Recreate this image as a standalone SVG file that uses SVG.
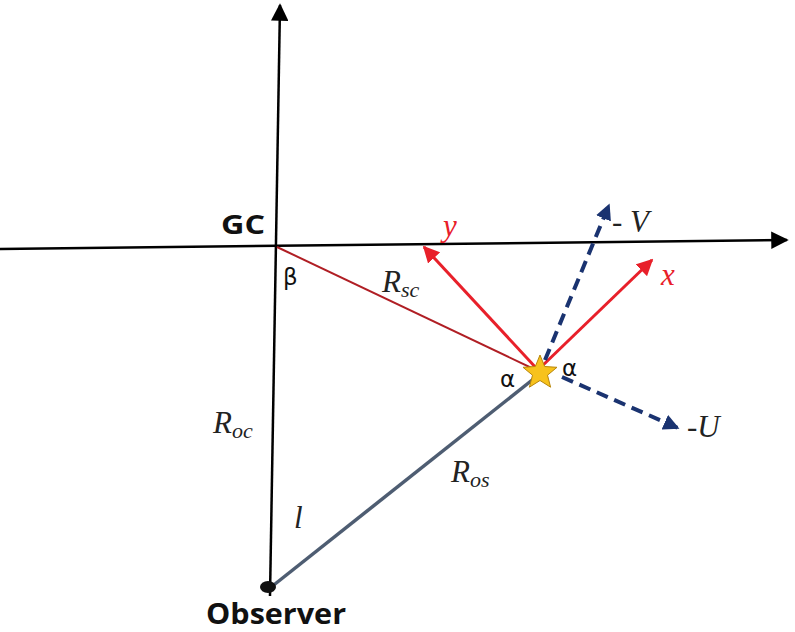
<svg xmlns="http://www.w3.org/2000/svg" width="795" height="632" viewBox="0 0 795 632">
<style>
.ax{stroke:#000;stroke-width:2.5;fill:none}
.red{stroke:#e8202a;stroke-width:3;fill:none}
.blu{stroke:#1a3370;stroke-width:4;fill:none;stroke-dasharray:12,7}
.lbl{font-family:"Liberation Serif",serif;font-style:italic;font-size:31px;fill:#222}
.sub{font-size:22px}
.bold{font-family:"Open Sans","Liberation Sans",sans-serif;font-weight:bold;fill:#111}
.gr{font-family:"DejaVu Sans","Liberation Sans",sans-serif;font-size:23px;fill:#111}
.rl{font-family:"Liberation Serif",serif;font-style:italic;font-size:31px;fill:#e8202a}
</style>
<defs>
<marker id="ak" viewBox="0 0 10 10" refX="9" refY="5" markerWidth="7" markerHeight="7" orient="auto" markerUnits="strokeWidth"><path d="M0,0 L10,5 L0,10 z" fill="#000"/></marker>
<marker id="ar" viewBox="0 0 10 10" refX="9" refY="5" markerWidth="5.5" markerHeight="5.5" orient="auto" markerUnits="strokeWidth"><path d="M0,0 L10,5 L0,10 z" fill="#e8202a"/></marker>
<marker id="ab" viewBox="0 0 10 10" refX="9" refY="5" markerWidth="4" markerHeight="4" orient="auto" markerUnits="strokeWidth"><path d="M0,0 L10,5 L0,10 z" fill="#1a3370"/></marker>
</defs>
<g id="connectors">
<path class="ax" d="M270,596 L280,5" marker-end="url(#ak)"/>
<path class="ax" d="M0,249 L787,240" marker-end="url(#ak)"/>
<path d="M277,247 L538,371" stroke="#b01e24" stroke-width="2" fill="none"/>
<path d="M270,588 L536,377" stroke="#4e5d72" stroke-width="3.5" fill="none"/>
<path class="red" d="M538,370 L424,247" marker-end="url(#ar)"/>
<path class="red" d="M540,368 L652,260" marker-end="url(#ar)"/>
<path class="blu" d="M545,360 L609,205" marker-end="url(#ab)"/>
<path class="blu" d="M562,377 L678,428" marker-end="url(#ab)"/>
</g>
<g id="observer">
<ellipse cx="268" cy="587" rx="8" ry="6" fill="#111"/>
<text class="bold" x="206" y="624" font-size="29" textLength="140" lengthAdjust="spacingAndGlyphs">Observer</text>
</g>
<g id="gc">
<text class="bold" x="221" y="234" font-size="26" textLength="44" lengthAdjust="spacingAndGlyphs">GC</text>
</g>
<g id="star">
<path d="M540,355 L544.7,366.5 L557,367.3 L547.5,375.2 L550.6,387.2 L540,380.5 L529.4,387.2 L532.5,375.2 L523,367.3 L535.3,366.5 Z" fill="#f7c21c" stroke="#b8860b" stroke-width="1"/>
</g>
<g id="labels">
<text class="gr" x="283" y="285">β</text>
<text class="gr" x="500" y="387">α</text>
<text class="gr" x="562" y="376">α</text>
<text class="lbl" x="382" y="292">R<tspan class="sub" dy="5">sc</tspan></text>
<text class="lbl" x="213" y="433">R<tspan class="sub" dy="5">oc</tspan></text>
<text class="lbl" x="451" y="482">R<tspan class="sub" dy="5">os</tspan></text>
<text class="lbl" x="294" y="528">l</text>
<text class="rl" x="443" y="236">y</text>
<text class="rl" x="661" y="285">x</text>
<text class="lbl" x="612" y="232">- V</text>
<text class="lbl" x="687" y="437">-U</text>
</g>
</svg>
